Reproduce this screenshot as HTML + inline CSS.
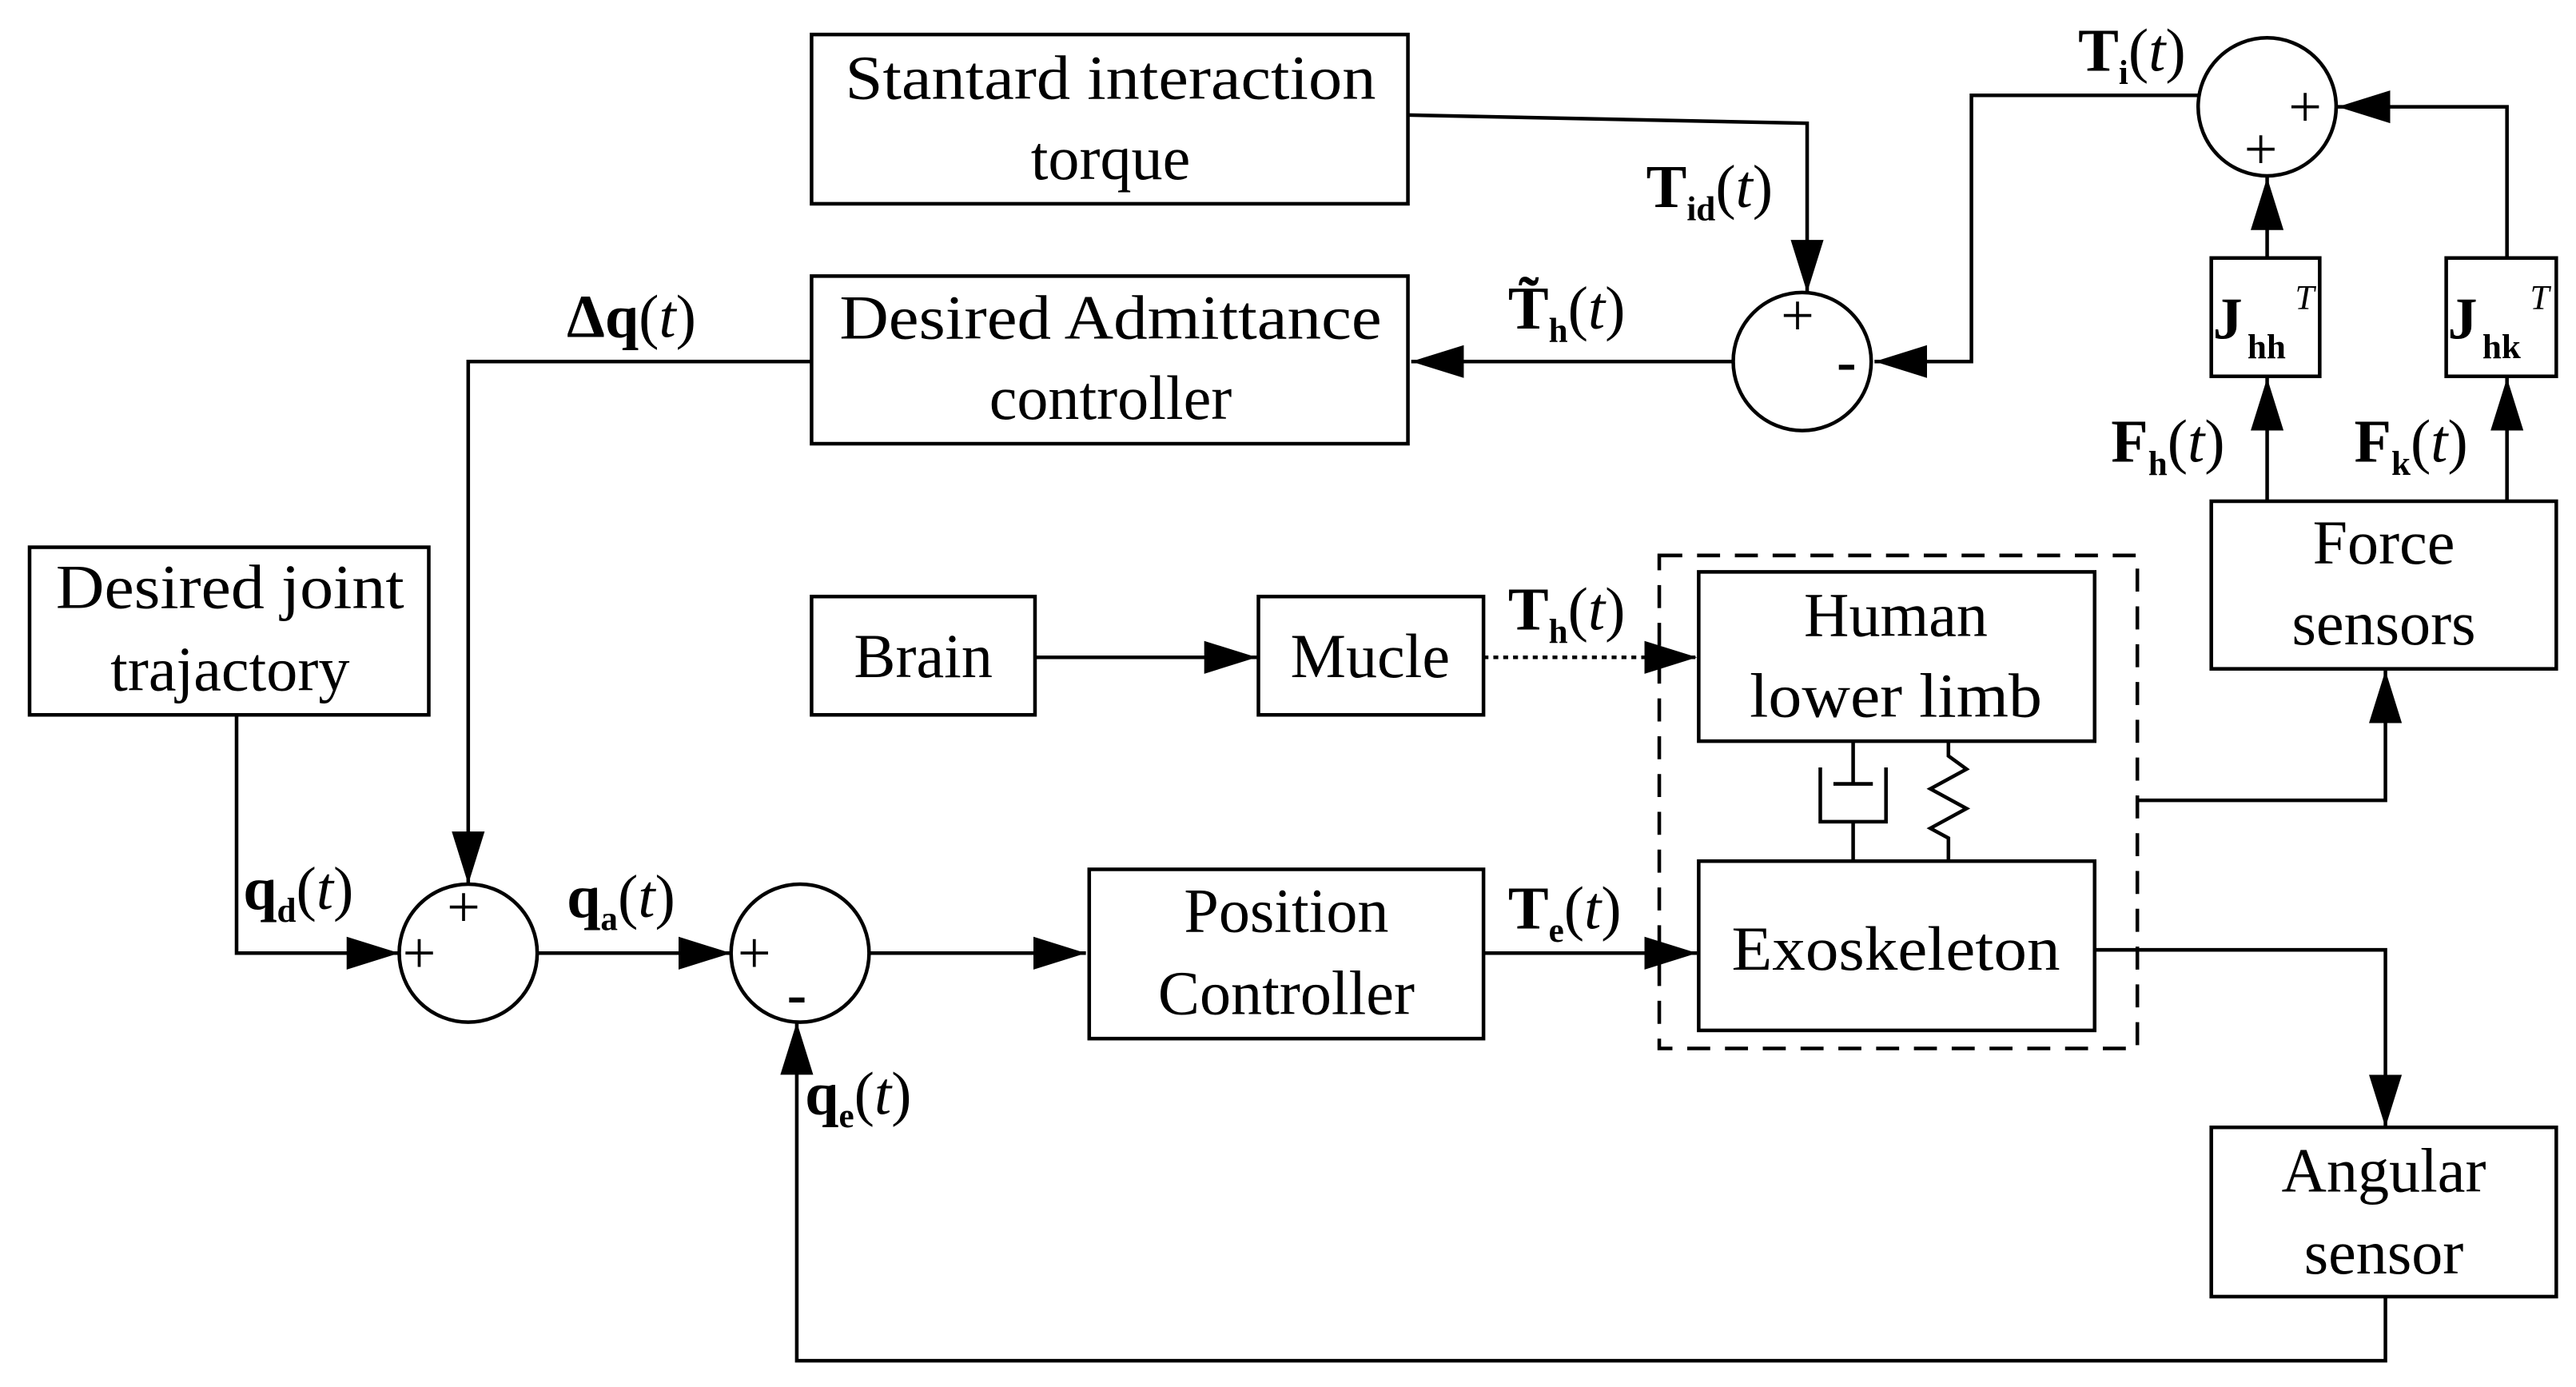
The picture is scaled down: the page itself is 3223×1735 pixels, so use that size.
<!DOCTYPE html>
<html><head><meta charset="utf-8"><style>
html,body{margin:0;padding:0;background:#fff;}
svg{display:block;}
text{font-family:"Liberation Serif",serif;fill:#000;}
</style></head><body>
<svg width="3223" height="1735" viewBox="0 0 1568 844" preserveAspectRatio="none" xmlns="http://www.w3.org/2000/svg">
<defs>
<marker id="a" viewBox="0 0 32 22" refX="32" refY="11" markerWidth="32" markerHeight="22" markerUnits="userSpaceOnUse" orient="auto">
<path d="M0,1 L32,11 L0,21 Z" fill="#000"/>
</marker>
</defs>
<g fill="none" stroke="#000" stroke-width="2.2">
<rect x="494" y="21" width="363" height="103"/>
<rect x="494" y="168" width="363" height="102"/>
<rect x="18" y="333" width="243" height="102"/>
<rect x="494" y="363" width="136" height="72"/>
<rect x="766" y="363" width="137" height="72"/>
<rect x="1034" y="348" width="241" height="103"/>
<rect x="1034" y="524" width="241" height="103"/>
<rect x="663" y="529" width="240" height="103"/>
<rect x="1346" y="305" width="210" height="102"/>
<rect x="1346" y="686" width="210" height="103"/>
<rect x="1346" y="157" width="66" height="72"/>
<rect x="1489" y="157" width="67" height="72"/>
<rect x="1010" y="338" width="291" height="300" stroke-dasharray="14,9"/>
<circle cx="1380" cy="65" r="42"/>
<circle cx="1097" cy="220" r="42"/>
<circle cx="285" cy="580" r="42"/>
<circle cx="487" cy="580" r="42"/>
<polyline points="857,70 1100,75 1100,178" marker-end="url(#a)"/>
<polyline points="1338,58 1200,58 1200,220 1141,220" marker-end="url(#a)"/>
<line x1="1055" y1="220" x2="859" y2="220" marker-end="url(#a)"/>
<polyline points="494,220 285,220 285,538" marker-end="url(#a)"/>
<polyline points="144,435 144,580 243,580" marker-end="url(#a)"/>
<line x1="327" y1="580" x2="445" y2="580" marker-end="url(#a)"/>
<line x1="529" y1="580" x2="661" y2="580" marker-end="url(#a)"/>
<line x1="903" y1="580" x2="1033" y2="580" marker-end="url(#a)"/>
<line x1="630" y1="400" x2="765" y2="400" marker-end="url(#a)"/>
<line x1="903" y1="400" x2="1033" y2="400" stroke-dasharray="3,3" marker-end="url(#a)"/>
<polyline points="1275,578 1452,578 1452,686" marker-end="url(#a)"/>
<polyline points="1452,789 1452,828 485,828 485,622" marker-end="url(#a)"/>
<polyline points="1301,487 1452,487 1452,408" marker-end="url(#a)"/>
<line x1="1380" y1="305" x2="1380" y2="230" marker-end="url(#a)"/>
<line x1="1526" y1="305" x2="1526" y2="230" marker-end="url(#a)"/>
<line x1="1380" y1="157" x2="1380" y2="108" marker-end="url(#a)"/>
<polyline points="1526,157 1526,65 1423,65" marker-end="url(#a)"/>
<line x1="1128" y1="451" x2="1128" y2="477"/>
<line x1="1116" y1="477" x2="1140" y2="477"/>
<polyline points="1108,467 1108,500 1148,500 1148,467"/>
<line x1="1128" y1="500" x2="1128" y2="524"/>
<polyline points="1186,451 1186,460 1197,468 1175,480 1197,492 1175,504 1186,510 1186,524"/>
</g>
<g font-size="36">
<text x="1393" y="77">+</text><text x="1366" y="103">+</text>
<text x="1084" y="204">+</text><text x="1118" y="232" font-weight="bold">-</text>
<text x="272" y="564">+</text><text x="245" y="592">+</text>
<text x="449" y="592">+</text><text x="479" y="617" font-weight="bold">-</text>
</g>
<g font-size="38" text-anchor="middle">
<text x="676" y="60" textLength="323" lengthAdjust="spacingAndGlyphs">Stantard interaction</text>
<text x="676" y="109">torque</text>
<text x="676" y="206" textLength="330" lengthAdjust="spacingAndGlyphs">Desired Admittance</text>
<text x="676" y="255">controller</text>
<text x="140" y="370" textLength="212" lengthAdjust="spacingAndGlyphs">Desired joint</text>
<text x="140" y="420">trajactory</text>
<text x="562" y="412">Brain</text>
<text x="834" y="412">Mucle</text>
<text x="1154" y="387">Human</text>
<text x="1154" y="436" textLength="178" lengthAdjust="spacingAndGlyphs">lower limb</text>
<text x="1154" y="590" textLength="200" lengthAdjust="spacingAndGlyphs">Exoskeleton</text>
<text x="783" y="567">Position</text>
<text x="783" y="617">Controller</text>
<text x="1451" y="343">Force</text>
<text x="1451" y="392">sensors</text>
<text x="1451" y="725">Angular</text>
<text x="1451" y="775">sensor</text>
</g>
<text x="1347" y="206" font-size="36" font-weight="bold">J</text>
<text x="1368" y="218" font-size="21" font-weight="bold">hh</text>
<text x="1397" y="188" font-size="21" font-style="italic">T</text>
<text x="1490" y="206" font-size="36" font-weight="bold">J</text>
<text x="1511" y="218" font-size="21" font-weight="bold">hk</text>
<text x="1540" y="188" font-size="21" font-style="italic">T</text>
<g font-size="37">
<text x="1002" y="126"><tspan font-weight="bold">T</tspan><tspan font-size="21" font-weight="bold" dy="8">id</tspan><tspan dy="-8">(</tspan><tspan font-style="italic">t</tspan>)</text>
<text x="918" y="200"><tspan font-weight="bold">T̃</tspan><tspan font-size="21" font-weight="bold" dy="8">h</tspan><tspan dy="-8">(</tspan><tspan font-style="italic">t</tspan>)</text>
<text x="1265" y="43"><tspan font-weight="bold">T</tspan><tspan font-size="21" font-weight="bold" dy="8">i</tspan><tspan dy="-8">(</tspan><tspan font-style="italic">t</tspan>)</text>
<text x="345" y="205"><tspan font-weight="bold">Δq</tspan>(<tspan font-style="italic">t</tspan>)</text>
<text x="148" y="553"><tspan font-weight="bold">q</tspan><tspan font-size="21" font-weight="bold" dy="8">d</tspan><tspan dy="-8">(</tspan><tspan font-style="italic">t</tspan>)</text>
<text x="345" y="558"><tspan font-weight="bold">q</tspan><tspan font-size="21" font-weight="bold" dy="8">a</tspan><tspan dy="-8">(</tspan><tspan font-style="italic">t</tspan>)</text>
<text x="490" y="678"><tspan font-weight="bold">q</tspan><tspan font-size="21" font-weight="bold" dy="8">e</tspan><tspan dy="-8">(</tspan><tspan font-style="italic">t</tspan>)</text>
<text x="918" y="383"><tspan font-weight="bold">T</tspan><tspan font-size="21" font-weight="bold" dy="8">h</tspan><tspan dy="-8">(</tspan><tspan font-style="italic">t</tspan>)</text>
<text x="918" y="565"><tspan font-weight="bold">T</tspan><tspan font-size="21" font-weight="bold" dy="8">e</tspan><tspan dy="-8">(</tspan><tspan font-style="italic">t</tspan>)</text>
<text x="1285" y="281"><tspan font-weight="bold">F</tspan><tspan font-size="21" font-weight="bold" dy="8">h</tspan><tspan dy="-8">(</tspan><tspan font-style="italic">t</tspan>)</text>
<text x="1433" y="281"><tspan font-weight="bold">F</tspan><tspan font-size="21" font-weight="bold" dy="8">k</tspan><tspan dy="-8">(</tspan><tspan font-style="italic">t</tspan>)</text>
</g>
</svg>
</body></html>
